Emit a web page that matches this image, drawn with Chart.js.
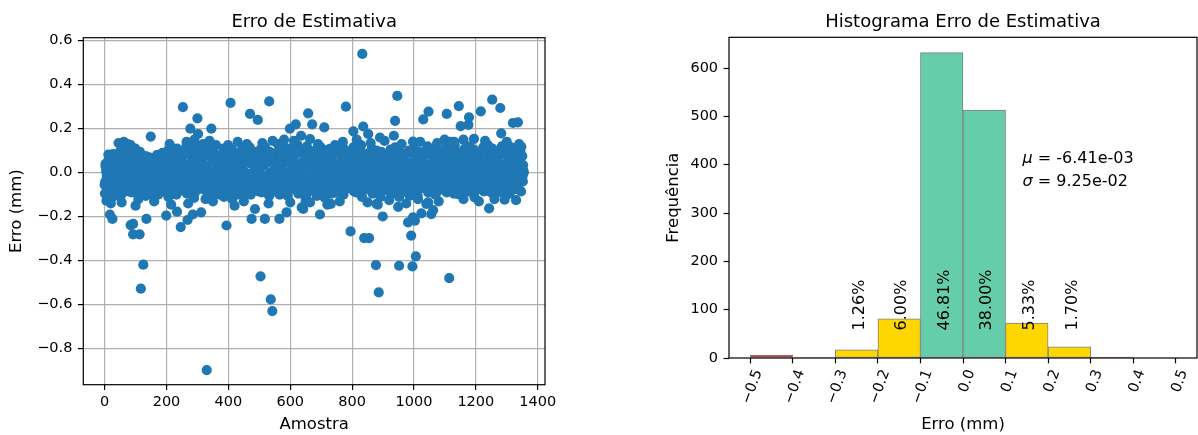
<!DOCTYPE html>
<html lang="pt">
<head>
<meta charset="utf-8">
<title>Erro de Estimativa</title>
<script src="https://cdn.jsdelivr.net/npm/chart.js@4.4.1/dist/chart.umd.min.js"></script>
<style>
  html, body { margin: 0; padding: 0; background: #fff; }
  #painel { position: relative; width: 1198px; height: 435px; }
  canvas { position: absolute; top: 0; }
  #graficoErro { left: 0; }
  #graficoHist { left: 600px; }
</style>
</head>
<body>
<div id="painel">
  <canvas id="graficoErro" width="600" height="435"></canvas>
  <canvas id="graficoHist" width="598" height="435"></canvas>
</div>
<script>
// ---- erro por amostra: faixa central (0 a 440) ----
const amostraA = [
  0, 3, 7, 1, 5, 2,
  24, 13, 21, 28, 17, 26,
  39, 46, 32, 43, 35, 49,
  54, 63, 67, 58, 65, 52,
  84, 73, 81, 88, 77, 86,
  99, 106, 92, 103, 95, 109,
  114, 123, 127, 118, 125, 112,
  144, 133, 141, 148, 137, 146,
  159, 166, 152, 163, 155, 169,
  174, 183, 187, 178, 185, 172,
  204, 193, 201, 208, 197, 206,
  219, 226, 212, 223, 215, 229,
  234, 243, 247, 238, 245, 232,
  264, 253, 261, 268, 257, 266,
  279, 286, 272, 283, 275, 289,
  294, 303, 307, 298, 305, 292,
  324, 313, 321, 328, 317, 326,
  339, 346, 332, 343, 335, 349,
  354, 363, 367, 358, 365, 352,
  384, 373, 381, 388, 377, 386,
  399, 406, 392, 403, 395, 409,
  414, 423, 427, 418, 425, 412,
  444, 433, 441, 448, 437, 446
];
const erroA = [
  -0.055, 0.030, -0.015, -0.095, 0.005, -0.040,
  0.045, -0.070, 0.010, -0.030, 0.065, -0.110,
  0.060, -0.085, 0.025, -0.010, -0.050, 0.095,
  0.120, 0.070, -0.020, -0.065, 0.030, -0.105,
  0.125, 0.085, 0.040, 0.000, -0.045, -0.090,
  0.110, 0.060, 0.015, -0.030, -0.075, -0.120,
  0.095, 0.050, 0.010, -0.035, -0.080, -0.060,
  0.070, 0.030, -0.010, -0.050, -0.095, 0.000,
  0.055, 0.020, -0.025, -0.065, -0.100, 0.080,
  0.080, 0.035, -0.005, -0.045, -0.085, 0.050,
  0.100, 0.055, 0.015, -0.030, -0.070, -0.110,
  0.085, 0.045, 0.000, -0.040, -0.080, 0.020,
  0.110, 0.065, 0.025, -0.020, -0.060, -0.100,
  0.120, 0.075, 0.030, -0.015, -0.055, -0.095,
  0.105, 0.060, 0.020, -0.025, -0.070, -0.115,
  0.125, 0.080, 0.035, -0.010, -0.050, -0.090,
  0.100, 0.055, 0.010, -0.035, -0.075, -0.120,
  0.115, 0.070, 0.025, -0.020, -0.065, -0.105,
  0.090, 0.045, 0.005, -0.040, -0.085, 0.060,
  0.110, 0.065, 0.020, -0.025, -0.070, -0.110,
  0.125, 0.080, 0.035, -0.010, -0.055, -0.095,
  0.095, 0.050, 0.010, -0.035, -0.080, -0.120,
  0.105, 0.060, 0.015, -0.030, -0.075, -0.100
];
const amostraA2 = [
  12, 6, 15, 9, 13,
  27, 34, 25, 31, 28,
  52, 46, 55, 49, 53,
  67, 74, 65, 71, 68,
  92, 86, 95, 89, 93,
  107, 114, 105, 111, 108,
  132, 126, 135, 129, 133,
  147, 154, 145, 151, 148,
  172, 166, 175, 169, 173,
  187, 194, 185, 191, 188,
  212, 206, 215, 209, 213,
  227, 234, 225, 231, 228,
  252, 246, 255, 249, 253,
  267, 274, 265, 271, 268,
  292, 286, 295, 289, 293,
  307, 314, 305, 311, 308,
  332, 326, 335, 329, 333,
  347, 354, 345, 351, 348,
  372, 366, 375, 369, 373,
  387, 394, 385, 391, 388,
  412, 406, 415, 409, 413,
  427, 434, 425, 431, 428
];
const erroA2 = [
  0.055, 0.015, -0.030, -0.075, -0.115,
  0.085, 0.040, -0.005, -0.045, -0.090,
  0.100, 0.050, 0.005, -0.040, -0.080,
  0.095, 0.050, 0.010, -0.040, -0.085,
  0.105, 0.060, 0.020, -0.020, -0.065,
  0.080, 0.040, -0.005, -0.050, -0.100,
  0.075, 0.030, -0.015, -0.060, -0.105,
  0.050, 0.010, -0.030, -0.070, -0.090,
  0.065, 0.025, -0.020, -0.060, -0.100,
  0.090, 0.045, 0.005, -0.040, -0.085,
  0.075, 0.035, -0.010, -0.050, -0.095,
  0.095, 0.050, 0.010, -0.035, -0.080,
  0.090, 0.050, 0.005, -0.040, -0.080,
  0.085, 0.040, 0.000, -0.045, -0.090,
  0.100, 0.055, 0.015, -0.030, -0.075,
  0.110, 0.060, 0.015, -0.030, -0.070,
  0.080, 0.035, -0.010, -0.055, -0.095,
  0.095, 0.050, 0.005, -0.040, -0.085,
  0.075, 0.030, -0.015, -0.060, -0.100,
  0.090, 0.045, 0.000, -0.045, -0.090,
  0.105, 0.060, 0.015, -0.030, -0.075,
  0.075, 0.030, -0.015, -0.055, -0.100
];

// ---- faixa central (450 a 900) ----
const amostraB = [
  459, 466, 452, 463, 455, 469,
  474, 483, 487, 478, 485, 472,
  504, 493, 501, 508, 497, 506,
  519, 526, 512, 523, 515, 529,
  534, 543, 547, 538, 545, 532,
  564, 553, 561, 568, 557, 566,
  579, 586, 572, 583, 575, 589,
  594, 603, 607, 598, 605, 592,
  624, 613, 621, 628, 617, 626,
  639, 646, 632, 643, 635, 649,
  654, 663, 667, 658, 665, 652,
  684, 673, 681, 688, 677, 686,
  699, 706, 692, 703, 695, 709,
  714, 723, 727, 718, 725, 712,
  744, 733, 741, 748, 737, 746,
  759, 766, 752, 763, 755, 769,
  774, 783, 787, 778, 785, 772,
  804, 793, 801, 808, 797, 806,
  819, 826, 812, 823, 815, 829,
  834, 843, 847, 838, 845, 832,
  864, 853, 861, 868, 857, 866,
  879, 886, 872, 883, 875, 889,
  894, 903, 907, 898, 905, 892
];
const erroB = [
  0.090, 0.050, 0.005, -0.040, -0.080, 0.115,
  0.100, 0.060, 0.020, -0.020, -0.060, -0.100,
  0.080, 0.040, 0.000, -0.045, -0.085, 0.110,
  0.115, 0.070, 0.030, -0.015, -0.055, -0.095,
  0.095, 0.055, 0.010, -0.030, -0.075, -0.105,
  0.105, 0.060, 0.020, -0.025, -0.065, -0.100,
  0.120, 0.075, 0.030, -0.010, -0.050, -0.090,
  0.110, 0.065, 0.025, -0.020, -0.060, -0.105,
  0.125, 0.080, 0.035, -0.005, -0.050, -0.095,
  0.100, 0.055, 0.015, -0.030, -0.070, -0.110,
  0.120, 0.075, 0.030, -0.015, -0.060, -0.100,
  0.105, 0.060, 0.020, -0.025, -0.065, -0.105,
  0.115, 0.070, 0.025, -0.020, -0.060, -0.095,
  0.100, 0.055, 0.010, -0.030, -0.075, -0.115,
  0.110, 0.065, 0.025, -0.015, -0.055, -0.090,
  0.095, 0.050, 0.010, -0.035, -0.075, 0.120,
  0.105, 0.060, 0.020, -0.020, -0.060, -0.100,
  0.115, 0.070, 0.030, -0.010, -0.050, -0.085,
  0.100, 0.055, 0.015, -0.025, -0.065, 0.125,
  0.090, 0.050, 0.005, -0.035, -0.075, -0.110,
  0.110, 0.065, 0.025, -0.015, -0.055, -0.095,
  0.100, 0.060, 0.020, -0.025, -0.065, -0.100,
  0.095, 0.050, 0.010, -0.030, -0.070, -0.110
];
const amostraB2 = [
  452, 446, 455, 449, 453,
  467, 474, 465, 471, 468,
  492, 486, 495, 489, 493,
  507, 514, 505, 511, 508,
  532, 526, 535, 529, 533,
  547, 554, 545, 551, 548,
  572, 566, 575, 569, 573,
  587, 594, 585, 591, 588,
  612, 606, 615, 609, 613,
  627, 634, 625, 631, 628,
  652, 646, 655, 649, 653,
  667, 674, 665, 671, 668,
  692, 686, 695, 689, 693,
  707, 714, 705, 711, 708,
  732, 726, 735, 729, 733,
  747, 754, 745, 751, 748,
  772, 766, 775, 769, 773,
  787, 794, 785, 791, 788,
  812, 806, 815, 809, 813,
  827, 834, 825, 831, 828,
  852, 846, 855, 849, 853,
  867, 874, 865, 871, 868,
  892, 886, 895, 889, 893
];
const erroB2 = [
  0.070, 0.030, -0.015, -0.060, -0.100,
  0.080, 0.040, -0.005, -0.045, -0.085,
  0.095, 0.050, 0.010, -0.035, -0.075,
  0.075, 0.035, -0.010, -0.050, -0.090,
  0.090, 0.045, 0.000, -0.045, -0.090,
  0.080, 0.040, -0.005, -0.050, -0.085,
  0.095, 0.050, 0.005, -0.035, -0.080,
  0.085, 0.045, 0.000, -0.040, -0.085,
  0.100, 0.055, 0.015, -0.030, -0.075,
  0.090, 0.045, 0.000, -0.045, -0.090,
  0.080, 0.035, -0.010, -0.050, -0.095,
  0.095, 0.050, 0.005, -0.040, -0.080,
  0.085, 0.040, 0.000, -0.045, -0.085,
  0.090, 0.045, 0.005, -0.040, -0.080,
  0.075, 0.035, -0.010, -0.055, -0.095,
  0.085, 0.040, -0.005, -0.050, -0.090,
  0.080, 0.035, -0.005, -0.040, -0.080,
  0.095, 0.050, 0.010, -0.030, -0.070,
  0.090, 0.045, 0.000, -0.045, -0.090,
  0.070, 0.030, -0.015, -0.055, -0.095,
  0.085, 0.045, 0.005, -0.035, -0.075,
  0.080, 0.040, 0.000, -0.045, -0.085,
  0.075, 0.030, -0.010, -0.050, -0.090
];

// ---- faixa central (910 ao fim) ----
const amostraC = [
  924, 913, 921, 928, 917, 926,
  939, 946, 932, 943, 935, 949,
  954, 963, 967, 958, 965, 952,
  984, 973, 981, 988, 977, 986,
  999, 1006, 992, 1003, 995, 1009,
  1014, 1023, 1027, 1018, 1025, 1012,
  1044, 1033, 1041, 1048, 1037, 1046,
  1059, 1066, 1052, 1063, 1055, 1069,
  1074, 1083, 1087, 1078, 1085, 1072,
  1104, 1093, 1101, 1108, 1097, 1106,
  1119, 1126, 1112, 1123, 1115, 1129,
  1134, 1143, 1147, 1138, 1145, 1132,
  1164, 1153, 1161, 1168, 1157, 1166,
  1179, 1186, 1172, 1183, 1175, 1189,
  1194, 1203, 1207, 1198, 1205, 1192,
  1224, 1213, 1221, 1228, 1217, 1226,
  1239, 1246, 1232, 1243, 1235, 1249,
  1254, 1263, 1267, 1258, 1265, 1252,
  1284, 1273, 1281, 1288, 1277, 1286,
  1299, 1306, 1292, 1303, 1295, 1309,
  1314, 1323, 1327, 1318, 1325, 1312,
  1344, 1333, 1341, 1348, 1337, 1346,
  1350, 1353, 1355, 1352, 1354, 1351
];
const erroC = [
  0.105, 0.060, 0.020, -0.020, -0.060, -0.095,
  0.115, 0.070, 0.030, -0.015, -0.055, -0.100,
  0.090, 0.050, 0.005, -0.035, -0.075, -0.110,
  0.100, 0.055, 0.015, -0.025, -0.065, -0.105,
  0.110, 0.065, 0.025, -0.020, -0.060, -0.095,
  0.095, 0.055, 0.010, -0.030, -0.070, -0.105,
  0.120, 0.075, 0.030, -0.010, -0.050, -0.090,
  0.105, 0.060, 0.020, -0.025, -0.065, -0.100,
  0.095, 0.050, 0.010, -0.030, -0.070, 0.120,
  0.115, 0.070, 0.025, -0.015, -0.055, -0.090,
  0.105, 0.060, 0.020, -0.020, -0.060, -0.095,
  0.100, 0.055, 0.015, -0.025, -0.065, 0.125,
  0.110, 0.065, 0.025, -0.015, -0.055, -0.090,
  0.120, 0.075, 0.030, -0.010, -0.050, -0.085,
  0.105, 0.060, 0.020, -0.020, -0.060, -0.095,
  0.115, 0.070, 0.030, -0.015, -0.055, -0.085,
  0.125, 0.080, 0.035, -0.005, -0.045, -0.090,
  0.110, 0.065, 0.025, -0.015, -0.055, -0.090,
  0.120, 0.075, 0.030, -0.010, -0.050, -0.085,
  0.105, 0.060, 0.020, -0.020, -0.060, -0.095,
  0.115, 0.070, 0.025, -0.015, -0.055, -0.080,
  0.100, 0.055, 0.015, -0.025, -0.065, -0.085,
  0.075, 0.035, 0.000, -0.040, 0.010, -0.020
];
const amostraC2 = [
  912, 906, 915, 909, 913,
  927, 934, 925, 931, 928,
  952, 946, 955, 949, 953,
  967, 974, 965, 971, 968,
  992, 986, 995, 989, 993,
  1007, 1014, 1005, 1011, 1008,
  1032, 1026, 1035, 1029, 1033,
  1047, 1054, 1045, 1051, 1048,
  1072, 1066, 1075, 1069, 1073,
  1087, 1094, 1085, 1091, 1088,
  1112, 1106, 1115, 1109, 1113,
  1127, 1134, 1125, 1131, 1128,
  1152, 1146, 1155, 1149, 1153,
  1167, 1174, 1165, 1171, 1168,
  1192, 1186, 1195, 1189, 1193,
  1207, 1214, 1205, 1211, 1208,
  1232, 1226, 1235, 1229, 1233,
  1247, 1254, 1245, 1251, 1248,
  1272, 1266, 1275, 1269, 1273,
  1287, 1294, 1285, 1291, 1288,
  1312, 1306, 1315, 1309, 1313,
  1327, 1334, 1325, 1331, 1328
];
const erroC2 = [
  0.080, 0.040, 0.000, -0.040, -0.080,
  0.090, 0.050, 0.005, -0.035, -0.080,
  0.075, 0.030, -0.010, -0.055, -0.095,
  0.085, 0.040, -0.005, -0.045, -0.085,
  0.090, 0.045, 0.005, -0.040, -0.080,
  0.075, 0.035, -0.010, -0.050, -0.090,
  0.095, 0.050, 0.010, -0.030, -0.070,
  0.085, 0.040, 0.000, -0.045, -0.085,
  0.075, 0.030, -0.010, -0.050, -0.090,
  0.095, 0.050, 0.005, -0.035, -0.075,
  0.085, 0.040, 0.000, -0.040, -0.080,
  0.080, 0.035, -0.005, -0.045, -0.080,
  0.090, 0.045, 0.005, -0.035, -0.075,
  0.095, 0.050, 0.010, -0.030, -0.070,
  0.085, 0.040, 0.000, -0.040, -0.080,
  0.090, 0.045, 0.005, -0.035, -0.075,
  0.100, 0.055, 0.015, -0.025, -0.070,
  0.090, 0.045, 0.005, -0.035, -0.075,
  0.095, 0.050, 0.010, -0.030, -0.070,
  0.085, 0.040, 0.000, -0.040, -0.080,
  0.090, 0.045, 0.005, -0.035, -0.070,
  0.080, 0.040, 0.000, -0.040, -0.075
];

// ---- bordas irregulares da faixa ----
const franjaAmostra = [
  45, 62, 75, 210, 265, 290, 318, 360, 430, 460, 510, 560, 612, 690, 745, 770, 815, 860, 905, 960, 1020, 1075, 1130, 1160, 1230, 1300, 1340,
  20, 55, 100, 160, 215, 270, 350, 420, 450, 530, 600, 650, 720, 760, 850, 920, 975, 1080, 1160, 1210, 1260, 1330
];
const franjaErro = [
  0.135, 0.140, 0.130, 0.130, 0.140, 0.150, 0.130, 0.125, 0.140, 0.130, 0.135, 0.130, 0.145, 0.130, 0.125, 0.140, 0.150, 0.135, 0.145, 0.130, 0.140, 0.135, 0.140, 0.150, 0.145, 0.140, 0.130,
  -0.140, -0.135, -0.150, -0.130, -0.145, -0.140, -0.130, -0.150, -0.130, -0.140, -0.135, -0.130, -0.145, -0.130, -0.135, -0.125, -0.140, -0.130, -0.120, -0.130, -0.120, -0.125
];

// ---- amostras fora da faixa ----
const picosAmostra = [
  3, 12, 6, 17, 25, 84, 92, 92, 113, 125, 117, 135, 199, 234, 246, 268, 285, 312, 330, 394,
  149, 253, 277, 300, 302, 339, 345, 407,
  470, 495, 532, 543, 580, 599, 618, 635, 658, 664, 671, 710, 728, 780, 804,
  833, 836, 852, 890, 935, 939, 946, 997,
  1030, 1047, 1099, 1106, 1119, 1145, 1151, 1176, 1178, 1194, 1216, 1253, 1279, 1282, 1320, 1336, 1347,
  475, 486, 504, 518, 537, 542, 565, 588, 637, 642, 664, 696, 731, 795,
  839, 855, 877, 879, 883, 886, 899, 949, 952, 981, 991, 995, 997, 1003, 1006,
  1013, 1024, 1040, 1046, 1056, 1062, 1114, 1143, 1196, 1243, 1273, 1293, 1316
];
const picosErro = [
  0.040, 0.082, -0.127, -0.190, -0.210, -0.238, -0.233, -0.280, -0.280, -0.418, -0.527, -0.210, -0.195, -0.177, -0.247, -0.215, -0.190, -0.180, -0.897, -0.240,
  0.164, 0.298, 0.200, 0.247, 0.176, 0.145, 0.200, 0.317,
  0.267, 0.240, 0.324, 0.145, 0.150, 0.200, 0.220, 0.168, 0.270, 0.153, 0.220, 0.206, 0.108, 0.300, 0.188,
  0.540, 0.210, 0.176, 0.160, 0.168, 0.236, 0.349, 0.141,
  0.242, 0.278, 0.150, 0.267, 0.140, 0.303, 0.212, 0.217, 0.252, 0.154, 0.279, 0.332, 0.294, 0.179, 0.226, 0.229, 0.118,
  -0.210, -0.165, -0.471, -0.210, -0.576, -0.629, -0.210, -0.180, -0.158, -0.165, -0.135, -0.190, -0.142, -0.267,
  -0.297, -0.297, -0.420, -0.142, -0.145, -0.544, -0.199, -0.155, -0.423, -0.226, -0.286, -0.426, -0.203, -0.218, -0.380,
  -0.120, -0.185, -0.142, -0.135, -0.188, -0.170, -0.479, -0.097, -0.112, -0.162, -0.090, -0.123, -0.079
];

const ticksAmostra = [0, 200, 400, 600, 800, 1000, 1200, 1400];
const ticksErro = [-0.8, -0.6, -0.4, -0.2, 0.0, 0.2, 0.4, 0.6];

// ---- histograma ----
const totalAmostras = 1350;
const centrosClasse = [-0.45, -0.35, -0.25, -0.15, -0.05, 0.05, 0.15, 0.25, 0.35, 0.45];
const frequencias = [6, 1, 17, 81, 632, 513, 72, 23, 2, 0];
const grupoClasse = ['fora', 'fora', 'borda', 'borda', 'centro', 'centro', 'borda', 'borda', 'fora', 'fora'];
const ticksClasse = [-0.5, -0.4, -0.3, -0.2, -0.1, 0.0, 0.1, 0.2, 0.3, 0.4, 0.5];
const ticksFreq = [0, 100, 200, 300, 400, 500, 600];
const media = -0.00641;
const desvio = 0.0925;

const corGrupo = { fora: '#d62728', borda: '#ffd700', centro: '#66cdaa' };

Chart.defaults.font.family = "'DejaVu Sans', sans-serif";
Chart.defaults.color = '#000';

const fonteTick = { size: 14.5 };
const fonteRotulo = { size: 16.5 };
const fonteTitulo = { size: 18, weight: 'normal' };

function comMenos(v) {
  return v < 0 ? '\u2212' + Math.abs(v).toFixed(1) : v.toFixed(1);
}

function notacaoCientifica(v) {
  const [m, e] = v.toExponential(2).split('e');
  const sinal = e[0] === '-' ? '-' : '+';
  return m + 'e' + sinal + e.replace(/^[+-]/, '').padStart(2, '0');
}

function fixarTicks(valores) {
  return axis => { axis.ticks = valores.map(v => ({ value: v })); };
}

// caixa preta em volta da área do gráfico
const moldura = {
  id: 'moldura',
  afterDraw(chart) {
    const { ctx, chartArea: a } = chart;
    ctx.save();
    ctx.strokeStyle = '#000';
    ctx.lineWidth = 1.2;
    ctx.strokeRect(a.left, a.top, a.right - a.left, a.bottom - a.top);
    ctx.restore();
  }
};

const pontosErro = [];
[
  [amostraA, erroA], [amostraA2, erroA2],
  [amostraB, erroB], [amostraB2, erroB2],
  [amostraC, erroC], [amostraC2, erroC2],
  [franjaAmostra, franjaErro], [picosAmostra, picosErro]
].forEach(([xs, ys]) => xs.forEach((x, i) => pontosErro.push({ x: x, y: ys[i] })));

new Chart(document.getElementById('graficoErro'), {
  type: 'scatter',
  data: {
    datasets: [{
      data: pontosErro,
      backgroundColor: '#1f77b4',
      borderWidth: 0,
      pointRadius: 5.1,
      pointHoverRadius: 5.1
    }]
  },
  options: {
    responsive: false,
    animation: false,
    devicePixelRatio: 1,
    layout: { padding: { left: 0, right: 55, top: 0, bottom: 0 } },
    plugins: {
      legend: { display: false },
      tooltip: { enabled: false },
      title: {
        display: true, text: 'Erro de Estimativa', fullSize: false,
        font: fonteTitulo, padding: { top: 11.2, bottom: 4.9 }
      }
    },
    scales: {
      x: {
        type: 'linear', min: -69, max: 1423.6, z: 1,
        afterBuildTicks: fixarTicks(ticksAmostra),
        afterFit: s => { s.height = 50.3; },
        grid: { color: '#b0b0b0', lineWidth: 1.2, tickColor: '#000', tickLength: 5.4, tickWidth: 1.2 },
        border: { display: false },
        ticks: { autoSkip: false, maxRotation: 0, padding: 3.5, font: fonteTick, callback: v => String(v) },
        title: { display: true, text: 'Amostra', font: fonteRotulo, padding: { top: 0, bottom: 0 } }
      },
      y: {
        type: 'linear', min: -0.9636, max: 0.6136, z: 1,
        afterBuildTicks: fixarTicks(ticksErro),
        afterFit: s => { s.width = 83.3; },
        grid: { color: '#b0b0b0', lineWidth: 1.2, tickColor: '#000', tickLength: 5.4, tickWidth: 1.2 },
        border: { display: false },
        ticks: { autoSkip: false, padding: 5.5, font: fonteTick, callback: v => comMenos(v) },
        title: { display: true, text: 'Erro (mm)', font: fonteRotulo, padding: { top: 7.2, bottom: 0 } }
      }
    }
  },
  plugins: [moldura]
});

// percentuais sobre as classes e resumo da distribuição
const alturaRotulo = 57;
const anotacoes = {
  id: 'anotacoes',
  afterDatasetsDraw(chart) {
    const { ctx, scales: { x, y } } = chart;
    ctx.save();
    ctx.fillStyle = '#000';
    ctx.font = "16px 'DejaVu Sans'";
    ctx.textAlign = 'left';
    ctx.textBaseline = 'middle';
    frequencias.forEach((f, i) => {
      if (grupoClasse[i] === 'fora') return;
      ctx.save();
      ctx.translate(x.getPixelForValue(centrosClasse[i]) + 3, y.getPixelForValue(alturaRotulo));
      ctx.rotate(-Math.PI / 2);
      ctx.fillText((f / totalAmostras * 100).toFixed(2) + '%', 0, 0);
      ctx.restore();
    });

    ctx.textBaseline = 'alphabetic';
    const linhas = [['\u03bc', media, 404], ['\u03c3', desvio, 355]];
    linhas.forEach(([letra, valor, yv]) => {
      const px = x.getPixelForValue(0.14);
      const py = y.getPixelForValue(yv);
      ctx.font = "italic 16px 'DejaVu Sans'";
      ctx.fillText(letra, px, py);
      const w = ctx.measureText(letra).width;
      ctx.font = "16px 'DejaVu Sans'";
      ctx.fillText(' = ' + notacaoCientifica(valor), px + w, py);
    });
    ctx.restore();
  }
};

new Chart(document.getElementById('graficoHist'), {
  type: 'bar',
  data: {
    datasets: [{
      data: centrosClasse.map((c, i) => ({ x: c, y: frequencias[i] })),
      backgroundColor: grupoClasse.map(g => corGrupo[g]),
      borderColor: '#808080',
      borderWidth: 1,
      borderSkipped: false,
      barPercentage: 1,
      categoryPercentage: 1
    }]
  },
  options: {
    responsive: false,
    animation: false,
    devicePixelRatio: 1,
    layout: { padding: { left: 0, right: 1, top: 0, bottom: 0 } },
    plugins: {
      legend: { display: false },
      tooltip: { enabled: false },
      title: {
        display: true, text: 'Histograma Erro de Estimativa', fullSize: false,
        font: fonteTitulo, padding: { top: 11.2, bottom: 4.5 }
      }
    },
    scales: {
      x: {
        type: 'linear', min: -0.55, max: 0.55, offset: false,
        afterBuildTicks: fixarTicks(ticksClasse),
        afterFit: s => { s.height = 77; },
        grid: { drawOnChartArea: false, offset: false, tickColor: '#000', tickLength: 5.4, tickWidth: 1.2 },
        border: { display: false },
        ticks: { autoSkip: false, minRotation: 70, maxRotation: 70, padding: 4, labelOffset: 8, font: fonteTick, callback: v => comMenos(v) },
        title: { display: true, text: 'Erro (mm)', font: fonteRotulo, padding: { top: 0, bottom: 0 } }
      },
      y: {
        type: 'linear', min: 0, max: 663.6,
        afterBuildTicks: fixarTicks(ticksFreq),
        afterFit: s => { s.width = 129; },
        grid: { drawOnChartArea: false, tickColor: '#000', tickLength: 5.4, tickWidth: 1.2 },
        border: { display: false },
        ticks: { autoSkip: false, padding: 5.5, font: fonteTick, callback: v => String(v) },
        title: { display: true, text: 'Frequência', font: fonteRotulo, padding: { top: 63.4, bottom: 0 } }
      }
    }
  },
  plugins: [anotacoes, moldura]
});
</script>
</body>
</html>
